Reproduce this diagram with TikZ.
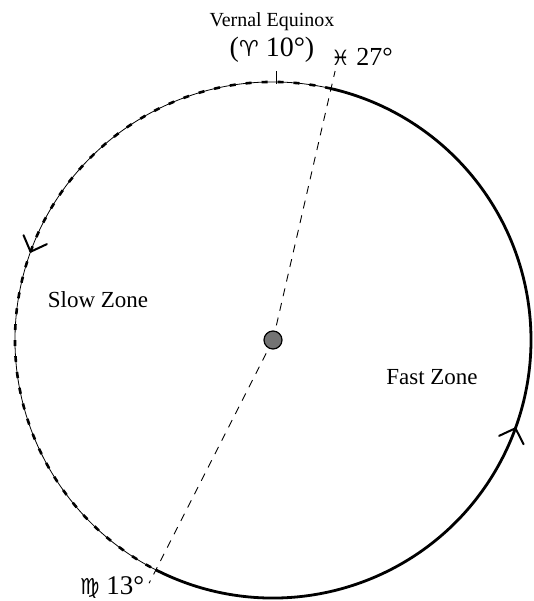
\documentclass[tikz,border=0pt]{standalone}
\usepackage{fontspec}
\setmainfont{Liberation Serif}
\newfontfamily\symfont{DejaVu Sans}
\usetikzlibrary{calc}
\begin{document}
\begin{tikzpicture}
\tikzset{
  slowarc/.style={line width=0.8pt},
  slowdash/.style={line width=2.6pt, dash pattern=on 6pt off 10pt},
  fastarc/.style={line width=2.8pt},
  guide/.style={line width=0.9pt, dash pattern=on 8pt off 7pt},
  barb/.style={line width=2pt, line cap=round, line join=round},
  lbl/.style={inner sep=0pt}
}
\useasboundingbox (-273pt,-261pt) rectangle (260pt,340pt);
% key points
\coordinate (P) at (77:258pt);
\coordinate (Pout) at (77:276pt);
\coordinate (Pin) at (77:15pt);
\coordinate (V) at (243:258pt);
\coordinate (Vout) at (243:273pt);
\coordinate (Vin) at (243:15pt);
\coordinate (T1) at (3pt,256pt);
\coordinate (T2) at (3pt,269pt);
\coordinate (A1) at (160:258pt);
\coordinate (A2) at (-20:258pt);
% circle: slow zone (thin + dashes) and fast zone (thick)
\draw[slowarc] (P) arc[start angle=77, end angle=243, radius=258pt];
\draw[slowdash] (P) arc[start angle=77, end angle=243, radius=258pt];
\draw[fastarc] (V) arc[start angle=243, end angle=437, radius=258pt];
% centre body
\node[circle, fill=black!55, draw=black, line width=1.2pt, minimum size=18pt, inner sep=0pt] (sun) at (0,0) {};
% line of apsides
\draw[guide] (Pin) -- (Pout);
\draw[guide] (Vin) -- (Vout);
% vernal equinox tick
\draw[line width=0.9pt] (T1) -- (T2);
% direction arrows
\draw[barb] ($(A1)+(113:18pt)$) -- (A1) -- ($(A1)+(25:18pt)$);
\draw[barb] ($(A2)+(205:18pt)$) -- (A2) -- ($(A2)+(297:18pt)$);
% labels
\node[lbl, font=\fontsize{20}{22}\selectfont] (ve) at (-1pt,318pt) {Vernal Equinox};
\node[lbl, font=\fontsize{28}{30}\selectfont] (ar) at (-1pt,290pt) {({\symfont\fontsize{22}{22}\selectfont ♈} 10°)};
\node[lbl, font=\fontsize{26}{28}\selectfont] (pi) at (89pt,283pt) {{\symfont\fontsize{21}{22}\selectfont ♓} 27°};
\node[lbl, font=\fontsize{27}{29}\selectfont] (vi) at (-161pt,-248pt) {{\symfont\fontsize{22}{22}\selectfont ♍} 13°};
\node[lbl, font=\fontsize{23}{25}\selectfont] (slow) at (-175pt,40pt) {Slow Zone};
\node[lbl, font=\fontsize{23}{25}\selectfont] (fast) at (159pt,-37pt) {Fast Zone};
\end{tikzpicture}
\end{document}
